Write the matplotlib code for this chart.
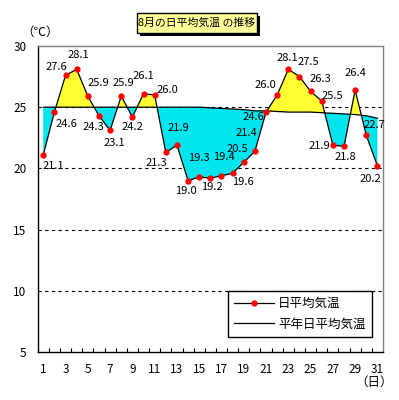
import numpy as np
import matplotlib
matplotlib.use("Agg")
import matplotlib.pyplot as plt
from matplotlib.patches import Rectangle
from matplotlib.lines import Line2D

plt.rcParams['font.family'] = ['Noto Sans CJK JP', 'DejaVu Sans']

days = list(range(1, 32))
temp = [21.1, 24.6, 27.6, 28.1, 25.9, 24.3, 23.1, 25.9, 24.2, 26.1, 26.0,
        21.3, 21.9, 19.0, 19.3, 19.2, 19.4, 19.6, 20.5, 21.4, 24.6, 26.0,
        28.1, 27.5, 26.3, 25.5, 21.9, 21.8, 26.4, 22.7, 20.2]
normal = [25.0, 25.0, 25.0, 25.0, 25.0, 25.0, 25.0, 25.0, 25.0, 25.0, 25.0,
          25.0, 25.0, 25.0, 25.0, 24.95, 24.9, 24.85, 24.8, 24.7, 24.7, 24.65,
          24.6, 24.6, 24.6, 24.55, 24.5, 24.45, 24.4, 24.3, 24.1]
xtick_labels = [str(d) for d in range(1, 32, 2)]
yticks = [5, 10, 15, 20, 25, 30]
title = "8月の日平均気温 の推移"
legend_labels = ["日平均気温", "平年日平均気温"]

# label offsets (pixels) for each point
offsets = [(10, -11), (12, -12), (-9, 8), (2, 14), (11, 13), (-6, -11), (4, -13),
           (2, 13), (0, -10), (0, 18), (13, 5), (-9, -11), (1, 17), (-2, -10),
           (0, 19), (2, -9), (2, 19), (10, -9), (-6, 13), (-8, 18), (-13, -5),
           (-12, 10), (-1, 11), (9, 15), (10, 12), (11, 5), (-13, -1), (1, -11),
           (0, 17), (8, 10), (-7, -13)]

W, H = 399, 400
fig = plt.figure(figsize=(W / 100, H / 100), dpi=100)
ax = fig.add_axes([37.7 / W, 1 - 352 / H, (383 - 37.7) / W, (352 - 46) / H])

x = np.array(days, dtype=float)
t = np.array(temp)
n = np.array(normal)

for yv in [10, 15, 20, 25]:
    ax.axhline(yv, color='black', lw=0.8, ls=(0, (3, 3)), zorder=1)

ax.fill_between(x, t, n, where=t >= n, interpolate=True, color='#FFFF33', lw=0, zorder=2)
ax.fill_between(x, t, n, where=t <= n, interpolate=True, color='#00E5EE', lw=0, zorder=2)
ax.plot(x, n, color='black', lw=0.9, zorder=3)
ax.plot(x, t, color='black', lw=0.9, marker='o', ms=3.5, mfc='red', mec='red', zorder=4)

for d, v, (dx, dy) in zip(days, temp, offsets):
    ax.annotate(f"{v:.1f}", (d, v), xytext=(dx, dy), textcoords='offset pixels',
                ha='center', va='center', fontsize=8, zorder=5)

ax.set_xlim(0.5, 31.5)
ax.set_ylim(5, 30)
ax.set_yticks(yticks)
ax.set_yticklabels([str(v) for v in yticks], fontsize=8.5)
ax.tick_params(axis='y', length=0, pad=8)
ax.set_xticks(list(range(1, 32, 2)))
ax.set_xticklabels(xtick_labels, fontsize=8.5)
ax.set_xticks(np.arange(1.5, 31.5, 1), minor=True)
ax.tick_params(axis='x', which='major', length=0, pad=8)
ax.tick_params(axis='x', which='minor', direction='in', length=3, width=0.8)

for s in ['left', 'bottom']:
    ax.spines[s].set_color('black')
    ax.spines[s].set_linewidth(1.0)
for s in ['top', 'right']:
    ax.spines[s].set_color('#808080')
    ax.spines[s].set_linewidth(1.0)

handles = [Line2D([], [], color='black', lw=0.9, marker='o', ms=3.5, mfc='red', mec='red'),
           Line2D([], [], color='black', lw=0.9)]
leg = ax.legend(handles, legend_labels, loc='lower right', bbox_to_anchor=(0.986, 0.029),
                fontsize=9, frameon=True, fancybox=False, edgecolor='black',
                framealpha=1, borderpad=0.5, handlelength=3.2, labelspacing=0.6,
                handletextpad=0.3)
leg.get_frame().set_linewidth(1.0)

# title box with shadow (figure pixel coords)
def rect_px(x0, y0, x1, y1, **kw):
    return Rectangle((x0 / W, 1 - y1 / H), (x1 - x0) / W, (y1 - y0) / H,
                     transform=fig.transFigure, **kw)

fig.patches.append(rect_px(140, 16, 260, 36, facecolor='black', edgecolor='black', lw=0))
fig.patches.append(rect_px(137, 13, 257, 33, facecolor='#FFFF99', edgecolor='black', lw=1.0))
fig.text(197 / W, 1 - 23 / H, title, ha='center', va='center', fontsize=7.8)

fig.text(40 / W, 1 - 32 / H, "（℃）", ha='center', va='center', fontsize=9)
fig.text(374 / W, 1 - 382 / H, "（日）", ha='center', va='center', fontsize=9)

fig.savefig("out.png", dpi=100)
